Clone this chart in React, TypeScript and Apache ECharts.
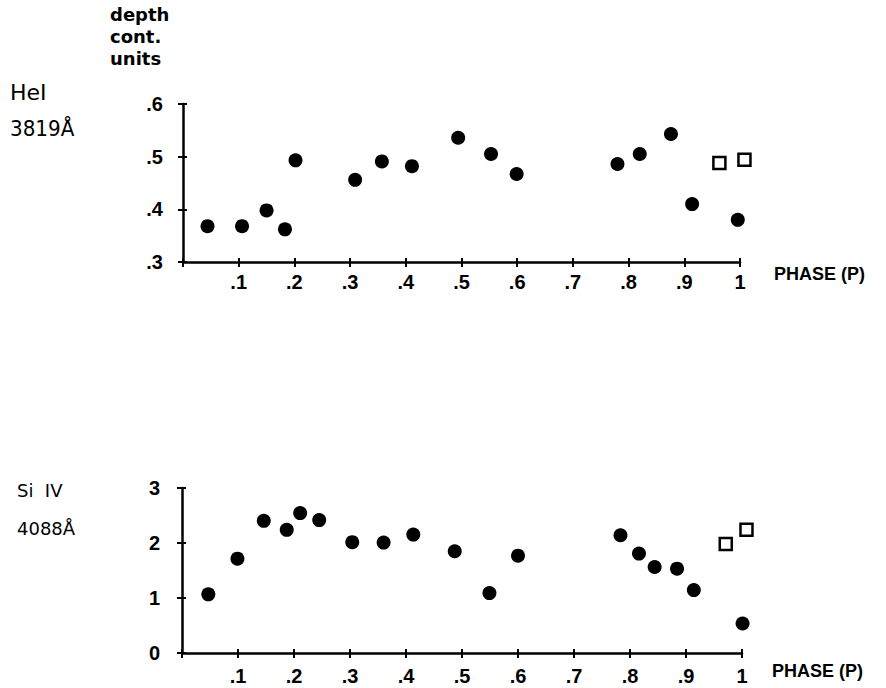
import React, { useEffect, useRef } from "react";
import * as echarts from "echarts";

// Tick labels
const xTickLabels = ["", ".1", ".2", ".3", ".4", ".5", ".6", ".7", ".8", ".9", "1"];
const heTickLabels = [".3", ".4", ".5", ".6"];
const siTickLabels = ["0", "1", "2", "3"];

// He I 3819 Å — filled circles
const hePhase = [0.044, 0.106, 0.15, 0.183, 0.202, 0.309, 0.357, 0.411, 0.494, 0.553, 0.599, 0.78, 0.82, 0.876, 0.914, 0.996];
const heDepth = [0.368, 0.368, 0.398, 0.362, 0.493, 0.456, 0.491, 0.482, 0.536, 0.505, 0.467, 0.486, 0.505, 0.543, 0.41, 0.38];
// He I — open squares
const heOpenPhase = [0.963, 1.008];
const heOpenDepth = [0.488, 0.494];

// Si IV 4088 Å — filled circles
const siPhase = [0.047, 0.099, 0.146, 0.187, 0.211, 0.245, 0.304, 0.36, 0.413, 0.487, 0.549, 0.6, 0.783, 0.816, 0.844, 0.884, 0.914, 1.001];
const siDepth = [1.066, 1.715, 2.403, 2.239, 2.544, 2.416, 2.015, 2.007, 2.153, 1.85, 1.089, 1.77, 2.142, 1.807, 1.564, 1.533, 1.144, 0.536];
// Si IV — open squares
const siOpenPhase = [0.971, 1.008];
const siOpenDepth = [1.984, 2.239];

const zip = (a: number[], b: number[]) => a.map((v, i) => [v, b[i]]);

const FONT = "Liberation Sans";
const labelStyle = { color: "#000", fontFamily: FONT, fontSize: 20, fontWeight: "bold" as const };

function xAxes(gridIndex: number, margin: number) {
  return [
    {
      gridIndex, type: "value", min: 0, max: 1, interval: 0.1,
      axisLine: { show: true, lineStyle: { color: "#000", width: 2.5 } },
      axisTick: { show: true, inside: false, length: 5, lineStyle: { color: "#000", width: 2 } },
      axisLabel: { ...labelStyle, margin, formatter: (v: number) => xTickLabels[Math.round(v * 10)] ?? "" },
      splitLine: { show: false },
    },
    {
      gridIndex, type: "value", min: 0, max: 1, interval: 0.1, position: "bottom",
      axisLine: { show: false },
      axisTick: { show: true, inside: true, length: 4, lineStyle: { color: "#000", width: 2 } },
      axisLabel: { show: false },
      splitLine: { show: false },
    },
  ];
}

function yAxes(gridIndex: number, min: number, max: number, interval: number, labels: string[], margin: number) {
  return [
    {
      gridIndex, type: "value", min, max, interval,
      axisLine: { show: true, lineStyle: { color: "#000", width: 2.5 } },
      axisTick: { show: true, inside: false, length: 5, lineStyle: { color: "#000", width: 2 } },
      axisLabel: { ...labelStyle, margin, formatter: (v: number) => labels[Math.round((v - min) / interval)] ?? "" },
      splitLine: { show: false },
    },
    {
      gridIndex, type: "value", min, max, interval, position: "left",
      axisLine: { show: false },
      axisTick: { show: true, inside: true, length: 4, lineStyle: { color: "#000", width: 2 } },
      axisLabel: { show: false },
      splitLine: { show: false },
    },
  ];
}

const dotSeries = (xi: number, yi: number, data: number[][]) => ({
  type: "scatter", xAxisIndex: xi, yAxisIndex: yi, data, clip: false,
  symbol: "circle", symbolSize: 14, itemStyle: { color: "#000", opacity: 1 },
});
const squareSeries = (xi: number, yi: number, data: number[][]) => ({
  type: "scatter", xAxisIndex: xi, yAxisIndex: yi, data, clip: false,
  symbol: "rect", symbolSize: 12, itemStyle: { color: "#fff", borderColor: "#000", borderWidth: 2.5, opacity: 1 },
});

const txt = (x: number, y: number, text: string, size: number, extra: any = {}) => ({
  type: "text", x, y,
  style: { text, fill: "#000", font: `${extra.weight ?? "normal"} ${size}px '${extra.family ?? "DejaVu Sans"}'`, lineHeight: extra.lineHeight ?? size * 1.2 },
  scaleX: extra.scaleX ?? 1,
});

export default function App() {
  const ref = useRef<HTMLDivElement>(null);
  useEffect(() => {
    if (!ref.current) return;
    const chart = echarts.init(ref.current, null, { renderer: "svg" });
    chart.setOption({
      animation: false,
      backgroundColor: "#fff",
      grid: [
        { left: 183, top: 104, width: 557, height: 158 },
        { left: 182, top: 488, width: 560, height: 165 },
      ],
      xAxis: [...xAxes(0, 10), ...xAxes(1, 13)],
      yAxis: [...yAxes(0, 0.3, 0.6, 0.1, heTickLabels, 20), ...yAxes(1, 0, 3, 1, siTickLabels, 22)],
      series: [
        dotSeries(0, 0, zip(hePhase, heDepth)),
        squareSeries(0, 0, zip(heOpenPhase, heOpenDepth)),
        dotSeries(2, 2, zip(siPhase, siDepth)),
        squareSeries(2, 2, zip(siOpenPhase, siOpenDepth)),
      ],
      graphic: [
        txt(110, 3, "depth\ncont.\nunits", 18, { lineHeight: 22, weight: "bold" }),
        txt(10, 79, "HeI", 22),
        txt(10, 116, "3819Å", 21, { scaleX: 0.95 }),
        txt(17, 480, "Si  IV", 18),
        txt(17, 518, "4088Å", 18),
        txt(774, 263, "PHASE (P)", 18, { family: FONT, weight: "bold" }),
        txt(772, 660, "PHASE (P)", 18, { family: FONT, weight: "bold" }),
      ],
    });
    return () => chart.dispose();
  }, []);
  return <div ref={ref} style={{ position: "fixed", left: 0, top: 0, width: 886, height: 688 }} />;
}
